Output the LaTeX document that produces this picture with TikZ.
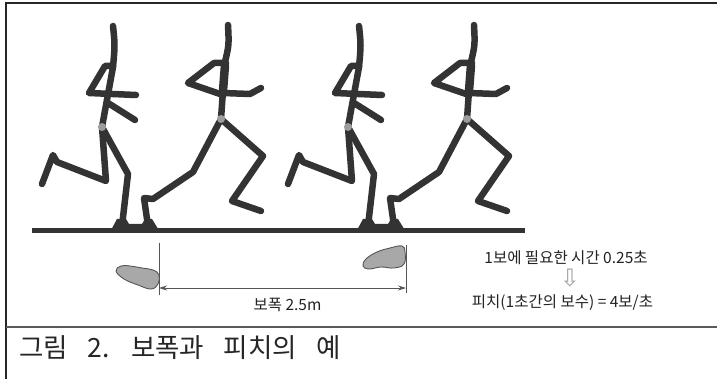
\documentclass[tikz,border=0pt]{standalone}
\usepackage{fontspec}
\setmainfont{Noto Sans CJK KR}
\newfontfamily\capfont[WordSpace=3.3]{Noto Sans CJK KR}
\newfontfamily\symfont{DejaVu Sans}
\usetikzlibrary{arrows.meta}

\definecolor{ink}{HTML}{333333}
\definecolor{pad}{HTML}{A8A8A8}
\definecolor{hipdot}{HTML}{9C9C9C}
\definecolor{rule}{HTML}{555555}
\definecolor{txt}{HTML}{222222}

\tikzset{
  limb/.style={draw=ink, line width=6.5pt, line cap=round, line join=round},
  hipmark/.style={fill=hipdot, draw=none},
  footblock/.style={fill=ink, draw=none},
  print/.style={fill=pad, draw=rule, line width=0.9pt},
  guide/.style={draw=rule, line width=0.8pt},
  frameline/.style={draw=black!85, line width=1.4pt},
  label/.style={inner sep=0pt, anchor=base, text=txt, font=\fontsize{15.5}{17}\selectfont},
  caption/.style={inner sep=0pt, anchor=base west, text=black!85, font=\capfont\fontsize{26.5}{28}\selectfont},
  % runner pushing off, arms crossed in front
  runnerA/.pic={
    \draw[limb] (113,26) .. controls (115,45) .. (113,67);
    \draw[limb] (113,67) -- (102,127);
    \draw[limb] (113,66) -- (105,66) -- (89,93) -- (136,95);
    \draw[limb] (108,103) -- (135,120);
    \draw[limb] (102,127) -- (106,181) -- (57,162) -- (53,155) -- (42,184);
    \draw[limb] (102,127) -- (128,174) -- (122,226);
    \fill[hipmark] (102,127) circle (4);
  },
  % runner in flight, leading knee raised
  runnerB/.pic={
    \draw[limb] (228,25) .. controls (229,45) .. (225,62);
    \draw[limb] (225,62) -- (221,119);
    \draw[limb, line width=8.5pt] (225,65) -- (223,91);
    \draw[limb] (226,63) -- (214,63) -- (188,83) -- (223,95);
    \draw[limb] (223,93) -- (250,94) -- (261,88);
    \draw[limb] (221,119) -- (263,156) -- (232,201) -- (261,211);
    \draw[limb] (221,119) -- (193,172) -- (153,199) -- (144,198) -- (148,226);
    \fill[hipmark] (221,119) circle (4);
  },
  % both feet meeting the ground
  groundfeet/.pic={
    \fill[footblock] (110,232) -- (117,219) -- (126,219) -- (129,224) -- (142,224)
      -- (145,219) -- (152,219) -- (160,232) -- cycle;
  }
}

\begin{document}
\begin{tikzpicture}[x=1pt, y=-1pt]
  \useasboundingbox (0,0) rectangle (717,379);

  % frame and caption rule
  \coordinate (fbl) at (6,379);
  \coordinate (ftl) at (6,3);
  \coordinate (ftr) at (717,3);
  \coordinate (sl) at (6,327);
  \coordinate (sr) at (717,327);
  \draw[frameline] (fbl) -- (ftl) -- (ftr);
  \draw[draw=black!65, line width=1.6pt] (sl) -- (sr);

  % running track
  \coordinate (g0) at (32,231);
  \coordinate (g1) at (525,231);
  \draw[draw=ink, line width=5pt] (g0) -- (g1);

  % two strides
  \pic {runnerA};
  \pic {runnerB};
  \pic {groundfeet};
  \pic[shift={(246,0)}] {runnerA};
  \pic[shift={(246,0)}] {runnerB};
  \pic[shift={(246,0)}] {groundfeet};

  % footprints
  \draw[print] plot[smooth cycle, tension=0.7] coordinates
    {(116,271) (121,266) (130,266) (142,268) (153,270) (159,275) (158,284) (151,289) (138,285) (124,279)};
  \draw[print] plot[smooth cycle, tension=0.7] coordinates
    {(363,266) (366,259) (377,252) (390,248) (402,246) (405,252) (404,264) (394,268) (381,267) (369,269)};

  % stride length dimension
  \coordinate (lt) at (159,243);
  \coordinate (lb) at (159,295);
  \coordinate (rt) at (406,245);
  \coordinate (rb) at (406,293);
  \coordinate (la) at (159,288);
  \coordinate (ra) at (406,288);
  \draw[guide] (lt) -- (lb);
  \draw[guide] (rt) -- (rb);
  \draw[guide, {Stealth[length=8pt,width=5pt]}-{Stealth[length=8pt,width=5pt]}] (la) -- (ra);
  \node[label] (stride) at (287.5,310) {보폭 2.5m};

  % pitch calculation
  \node[label] (need) at (566,264) {1보에 필요한 시간 0.25초};
  \node[label, font=\symfont\fontsize{24}{26}\selectfont, text=black!35] (then) at (570,287) {⇩};
  \node[label] (pitch) at (562.5,307) {피치(1초간의 보수) = 4보/초};

  % caption
  \node[caption] (cap) at (19,357) {그림 2. 보폭과 피치의 예};
\end{tikzpicture}
\end{document}
